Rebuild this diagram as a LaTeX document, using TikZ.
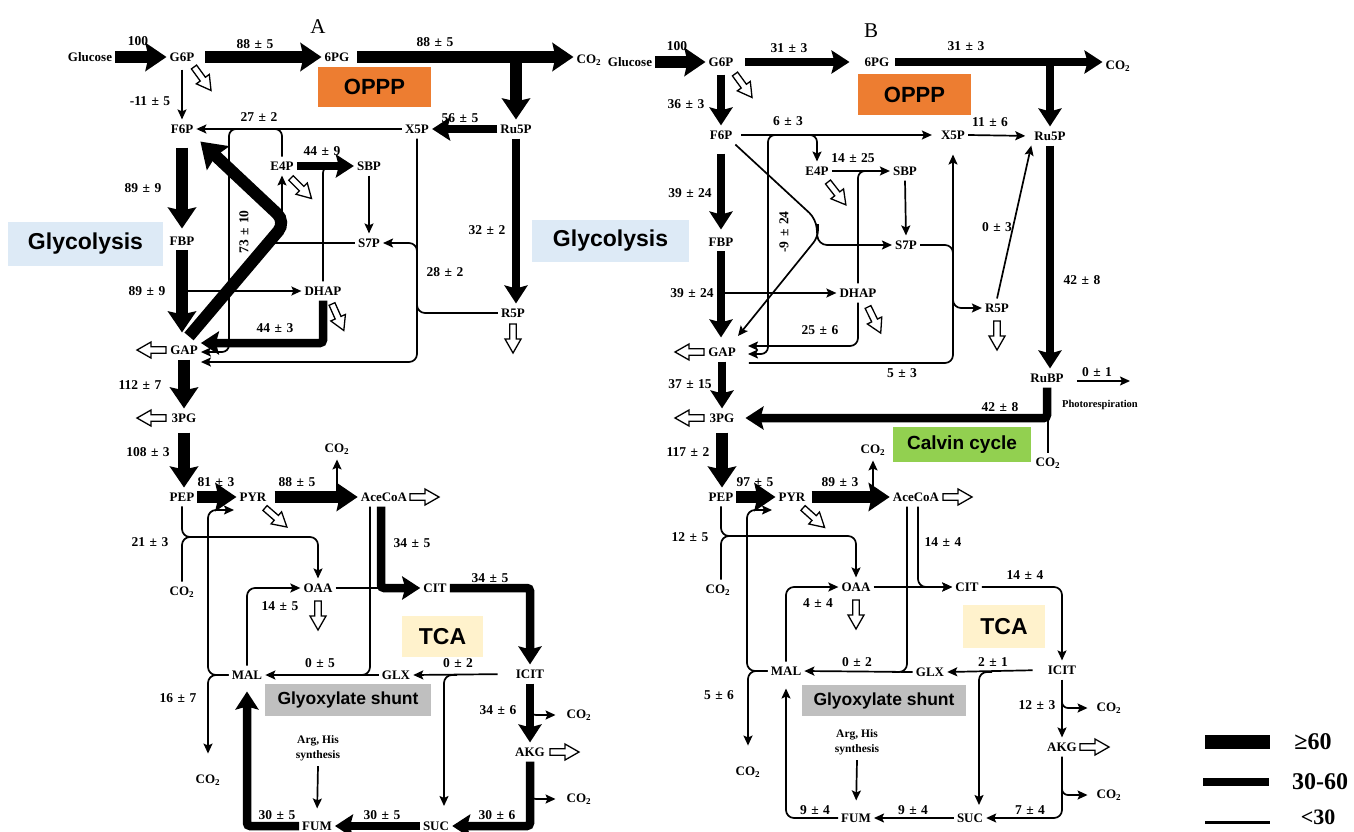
\documentclass[tikz,border=0pt]{standalone}
\usepackage{fontspec}
\setmainfont{Liberation Serif}
\newfontfamily\boxsans{Liberation Sans}
\usetikzlibrary{arrows.meta}
\newcommand\metf{\bfseries\fontsize{13}{13}\selectfont}
\newcommand\numf{\bfseries\fontsize{13.5}{13.5}\selectfont}
\newcommand\bxf[1]{\boxsans\bfseries\fontsize{#1}{#1}\selectfont}
\newcommand\fx[2]{#1\hspace{4.5pt}±\hspace{4.5pt}#2}
\newcommand\COt{CO\textsubscript{2}}
\definecolor{opppc}{RGB}{237,125,49}
\definecolor{glyc}{RGB}{221,234,246}
\definecolor{tcac}{RGB}{255,242,204}
\definecolor{glxc}{RGB}{191,191,191}
\definecolor{calc}{RGB}{146,208,80}
\begin{document}
\begin{tikzpicture}[x=1pt,y=-1pt,
  mlab/.style={font=\metf, inner xsep=3pt, inner ysep=5pt},
  nlab/.style={font=\numf, inner sep=0pt},
  cbox/.style={inner sep=0pt},
  fbig/.style={line width=12pt, -{Stealth[length=21pt,width=28pt,inset=3pt]}},
  fmid/.style={line width=8.5pt, -{Stealth[length=18pt,width=23pt,inset=3pt]}},
  fthin/.style={line width=1.7pt, -{Stealth[length=10pt,width=9pt,inset=2pt]}},
  fline/.style={line width=1.7pt},
  holarrow/.pic={\draw[line width=1.3pt,fill=white,line join=miter] (0,-3.2) -- (15,-3.2) -- (15,-8) -- (29,0) -- (15,8) -- (15,3.2) -- (0,3.2) -- cycle;}
]
\useasboundingbox (0,0) rectangle (1354,832);
% ---------- boxes
\node[cbox, fill=opppc, minimum width=113pt, minimum height=40pt, font=\bxf{22}] (aOPPP) at (374.5,87) {OPPP};
\node[cbox, fill=glyc, minimum width=155pt, minimum height=44pt, font=\bxf{23}] (aGly) at (85.5,244) {Glycolysis};
\node[cbox, fill=tcac, minimum width=81pt, minimum height=41pt, font=\bxf{23}] (aTCA) at (442.5,636.5) {TCA};
\node[cbox, fill=glxc, minimum width=166pt, minimum height=32pt, font=\bxf{17.5}] (aGS) at (348,700) {Glyoxylate shunt};
\node[cbox, fill=opppc, minimum width=113pt, minimum height=41pt, font=\bxf{22}] (bOPPP) at (914.5,94.5) {OPPP};
\node[cbox, fill=glyc, minimum width=157pt, minimum height=42pt, font=\bxf{23}] (bGly) at (610.5,241) {Glycolysis};
\node[cbox, fill=tcac, minimum width=82pt, minimum height=43pt, font=\bxf{23}] (bTCA) at (1004,626.5) {TCA};
\node[cbox, fill=glxc, minimum width=164pt, minimum height=31pt, font=\bxf{17.5}] (bGS) at (884,700.5) {Glyoxylate shunt};
\node[cbox, fill=calc, minimum width=138pt, minimum height=35pt, font=\bxf{19}] (bCal) at (962,444.5) {Calvin cycle};
% ---------- titles
\node[font=\fontsize{21}{21}\selectfont] (tA) at (318,27) {A};
\node[font=\fontsize{21}{21}\selectfont] (tB) at (871,31) {B};

% =================== PANEL A nodes
\node[mlab] (aGlc) at (90,57) {Glucose};
\node[mlab] (aG6P) at (182,57) {G6P};
\node[mlab] (a6PG) at (337,57) {6PG};
\node[mlab] (aCO2a) at (589,60) {\COt};
\node[mlab] (aRu5P) at (516,129) {Ru5P};
\node[mlab] (aX5P) at (417,129) {X5P};
\node[mlab] (aF6P) at (182,129) {F6P};
\node[mlab] (aE4P) at (282,166) {E4P};
\node[mlab] (aSBP) at (369,166) {SBP};
\node[mlab] (aFBP) at (182,241) {FBP};
\node[mlab] (aS7P) at (369,243) {S7P};
\node[mlab] (aDHAP) at (323,291) {DHAP};
\node[mlab] (aR5P) at (513,313) {R5P};
\node[mlab] (aGAP) at (184,350) {GAP};
\node[mlab] (a3PG) at (184,418) {3PG};
\node[mlab] (aCO2b) at (337,449) {\COt};
\node[mlab] (aPEP) at (182,497) {PEP};
\node[mlab] (aPYR) at (253,497) {PYR};
\node[mlab] (aAce) at (384,497) {AceCoA};
\node[mlab] (aCO2c) at (182,592) {\COt};
\node[mlab] (aOAA) at (318,588) {OAA};
\node[mlab] (aCIT) at (435,588) {CIT};
\node[mlab] (aMAL) at (247,675) {MAL};
\node[mlab] (aGLX) at (396,675) {GLX};
\node[mlab] (aICIT) at (530,674) {ICIT};
\node[mlab] (aCO2d) at (579,715) {\COt};
\node[mlab] (aAKG) at (530,752) {AKG};
\node[mlab] (aCO2e) at (579,799) {\COt};
\node[mlab] (aCO2f) at (208,780) {\COt};
\node[mlab, align=center, font=\bfseries\fontsize{11.5}{15.5}\selectfont] (aArg) at (318,748) {Arg, His\\synthesis};
\node[mlab] (aFUM) at (317,826) {FUM};
\node[mlab] (aSUC) at (436,826) {SUC};
\coordinate (aK) at (286,222);
\coordinate (aPYRin) at (234,510);
\coordinate (aSUCin) at (444,806);
% A flux labels
\node[nlab] (aL1) at (138,41) {100};
\node[nlab] (aL2) at (255,44) {\fx{88}{5}};
\node[nlab] (aL3) at (435,42) {\fx{88}{5}};
\node[nlab] (aL4) at (150,101) {\fx{-11}{5}};
\node[nlab] (aL5) at (259,117) {\fx{27}{2}};
\node[nlab] (aL6) at (460,118) {\fx{56}{5}};
\node[nlab] (aL7) at (322,151) {\fx{44}{9}};
\node[nlab] (aL8) at (143,188) {\fx{89}{9}};
\node[nlab, rotate=90] (aL9) at (244,232) {\fx{73}{10}};
\node[nlab] (aL10) at (487,230) {\fx{32}{2}};
\node[nlab] (aL11) at (445,272) {\fx{28}{2}};
\node[nlab] (aL12) at (147,291) {\fx{89}{9}};
\node[nlab] (aL13) at (275,328) {\fx{44}{3}};
\node[nlab] (aL14) at (140,385) {\fx{112}{7}};
\node[nlab] (aL15) at (148,452) {\fx{108}{3}};
\node[nlab] (aL16) at (216,482) {\fx{81}{3}};
\node[nlab] (aL17) at (297,482) {\fx{88}{5}};
\node[nlab] (aL18) at (150,542) {\fx{21}{3}};
\node[nlab] (aL19) at (412,543) {\fx{34}{5}};
\node[nlab] (aL20) at (490,578) {\fx{34}{5}};
\node[nlab] (aL21) at (280,606) {\fx{14}{5}};
\node[nlab] (aL22) at (320,663) {\fx{0}{5}};
\node[nlab] (aL23) at (458,663) {\fx{0}{2}};
\node[nlab] (aL24) at (178,698) {\fx{16}{7}};
\node[nlab] (aL25) at (498,710) {\fx{34}{6}};
\node[nlab] (aL26) at (277,815) {\fx{30}{5}};
\node[nlab] (aL27) at (382,815) {\fx{30}{5}};
\node[nlab] (aL28) at (497,815) {\fx{30}{6}};

% =================== PANEL A connectors
\draw[fbig] (aGlc.east) -- (aG6P.west);
\draw[fbig, shorten <=8pt] (aG6P.east) -- (a6PG.west);
\draw[fbig, shorten <=5pt] (a6PG.east) -- (a6PG.east -| aCO2a.west);
\draw[fbig] (aRu5P.north |- a6PG.east) -- (aRu5P.north);
\draw[fthin, shorten <=3pt] (aG6P.south) -- (aF6P.north);
\pic[rotate=-54] at (194,67) {holarrow};
\draw[fmid] (aRu5P.west) -- (aX5P.east);
\draw[fthin] (aX5P.west) -- (aF6P.east);
\draw[fline, rounded corners=7pt] (aE4P.north) |- (268,129);
\draw[fthin, rounded corners=7pt] (247,129) -| (229,352) -- ([yshift=-2pt]aGAP.east);
\draw[fbig, rounded corners=12pt, -{Stealth[length=24pt,width=32pt,inset=3pt]}] ([xshift=5pt,yshift=4pt]aGAP.north) -- (aK) -- ([xshift=4pt,yshift=-3pt]aF6P.south east);
\draw[fthin] (282,214) -- (aE4P.south);
\draw[fmid] (aE4P.east) -- (aSBP.west);
\draw[fline, rounded corners=7pt] (aDHAP.north) |- (338,166);
\pic[rotate=-45] at (291,178) {holarrow};
\draw[fthin] (aSBP.south) -- (aS7P.north);
\draw[fline] (272,243) -- (aS7P.west);
\draw[fbig, shorten <=9pt, shorten >=3pt] (aF6P.south) -- (aFBP.north);
\draw[fbig, shorten >=8pt] (aFBP.south) -- (aFBP.south |- aGAP.north);
\draw[fthin] (aFBP.south |- aDHAP.west) -- (aDHAP.west);
\draw[fmid, rounded corners=3pt] (aDHAP.south) |- ([yshift=7pt]aGAP.east);
\pic[rotate=-66] at (332,304) {holarrow};
\draw[fthin, rounded corners=8pt] (aX5P.south) |- ([yshift=-12pt]aGAP.east);
\draw[fthin, rounded corners=8pt] (aR5P.west) -| (aX5P.south |- aS7P.east) -- (aS7P.east);
\draw[fmid] (aRu5P.south) -- (aRu5P.south |- aR5P.north);
\pic[rotate=-90] at (513,324) {holarrow};
\pic[rotate=180] at (166,350) {holarrow};
\draw[fbig] (aGAP.south) -- (a3PG.north);
\pic[rotate=180] at (166,418) {holarrow};
\draw[fbig, shorten <=5pt] (a3PG.south) -- (a3PG.south |- aPEP.north);
\draw[fbig] (aPEP.east) -- (aPYR.west);
\draw[fbig, shorten <=5pt] (aPYR.east) -- (aAce.west);
\draw[fthin] (aCO2b.south |- aPYR.east) -- (aCO2b.south);
\pic at (410,497) {holarrow};
\pic[rotate=-41] at (265,508) {holarrow};
\draw[fthin, rounded corners=8pt] (aPEP.south) |- (300,537) -| (aOAA.north);
\draw[fline, rounded corners=8pt] (aPEP.south |- aCO2c.north) |- (200,537);
\draw[fthin, rounded corners=8pt] (aMAL.west) -| (208,510) -- (aPYRin);
\draw[fthin, rounded corners=8pt, shorten >=16pt] (aMAL.west) -| (aCO2f.north);
\draw[fmid, rounded corners=3pt] ([xshift=-3pt]aAce.south) |- (aCIT.west);
\draw[fline, rounded corners=8pt] ([xshift=-14pt]aAce.south) |- (352,675);
\draw[fline] (aOAA.east) -- (378,588);
\pic[rotate=-90] at (318,601) {holarrow};
\draw[fthin, rounded corners=8pt] (aMAL.north) |- (aOAA.west);
\draw[fmid, rounded corners=3pt] (aCIT.east) -| (aICIT.north);
\draw[fthin, shorten <=15pt] (aICIT.west) -- (aGLX.east);
\draw[fthin, rounded corners=8pt] (457,675) -| (aSUCin);
\draw[fthin] (aGLX.west) -- (aMAL.east);
\draw[fmid] (aICIT.south) -- (aICIT.south |- aAKG.north);
\draw[fthin, rounded corners=6pt, shorten >=8pt] (530,700) |- (aCO2d.west);
\pic at (550,752) {holarrow};
\draw[fmid, rounded corners=3pt] (aAKG.south) |- (aSUC.east);
\draw[fthin, rounded corners=6pt, shorten >=8pt] (530,784) |- (aCO2e.west);
\draw[fmid] (aSUC.west) -- (aFUM.east);
\draw[fmid, rounded corners=3pt, shorten >=7pt] (aFUM.west) -| (aMAL.south);
\draw[fthin, shorten >=8pt] (aArg.south) -- (aFUM.north);

% =================== PANEL B nodes
\node[mlab] (bGlc) at (630,62) {Glucose};
\node[mlab] (bG6P) at (721,62) {G6P};
\node[mlab] (b6PG) at (877,62) {6PG};
\node[mlab] (bCO2a) at (1118,66) {\COt};
\node[mlab] (bF6P) at (721,135) {F6P};
\node[mlab] (bX5P) at (953,135) {X5P};
\node[mlab] (bRu5P) at (1050,136) {Ru5P};
\node[mlab] (bE4P) at (817,171) {E4P};
\node[mlab] (bSBP) at (905,171) {SBP};
\node[mlab] (bFBP) at (721,242) {FBP};
\node[mlab] (bS7P) at (906,245) {S7P};
\node[mlab] (bDHAP) at (858,293) {DHAP};
\node[mlab] (bR5P) at (997,308) {R5P};
\node[mlab] (bGAP) at (722,352) {GAP};
\node[mlab] (bRuBP) at (1047,378) {RuBP};
\node[mlab, font=\bfseries\fontsize{10.5}{10.5}\selectfont] (bPhoto) at (1100,405) {Photorespiration};
\node[mlab] (b3PG) at (722,418) {3PG};
\node[mlab] (bCO2b) at (873,450) {\COt};
\node[mlab] (bCO2g) at (1048,463) {\COt};
\node[mlab] (bPEP) at (721,497) {PEP};
\node[mlab] (bPYR) at (792,497) {PYR};
\node[mlab] (bAce) at (916,497) {AceCoA};
\node[mlab] (bCO2c) at (718,590) {\COt};
\node[mlab] (bOAA) at (856,587) {OAA};
\node[mlab] (bCIT) at (967,587) {CIT};
\node[mlab] (bMAL) at (786,671) {MAL};
\node[mlab] (bGLX) at (930,672) {GLX};
\node[mlab] (bICIT) at (1062,670) {ICIT};
\node[mlab] (bCO2d) at (1109,708) {\COt};
\node[mlab] (bAKG) at (1062,747) {AKG};
\node[mlab] (bCO2e) at (1109,795) {\COt};
\node[mlab] (bCO2f) at (748,772) {\COt};
\node[mlab, align=center, font=\bfseries\fontsize{11.5}{15.5}\selectfont] (bArg) at (857,742) {Arg, His\\synthesis};
\node[mlab] (bFUM) at (856,818) {FUM};
\node[mlab] (bSUC) at (970,818) {SUC};
\coordinate (bPR) at (1130,381);
\coordinate (bGAPa) at (748,346);
\coordinate (bGAPb) at (748,354);
\coordinate (bGAPd) at (738,336);
\coordinate (bPYRin) at (772,510);
\coordinate (bSUCin) at (979,805);
% B flux labels
\node[nlab] (bL1) at (677,46) {100};
\node[nlab] (bL2) at (789,48) {\fx{31}{3}};
\node[nlab] (bL3) at (966,46) {\fx{31}{3}};
\node[nlab] (bL4) at (686,104) {\fx{36}{3}};
\node[nlab] (bL5) at (788,121) {\fx{6}{3}};
\node[nlab] (bL6) at (990,122) {\fx{11}{6}};
\node[nlab] (bL7) at (853,158) {\fx{14}{25}};
\node[nlab] (bL8) at (690,193) {\fx{39}{24}};
\node[nlab, rotate=90] (bL9) at (784,232) {\fx{-9}{24}};
\node[nlab] (bL10) at (997,227) {\fx{0}{3}};
\node[nlab] (bL11) at (1082,280) {\fx{42}{8}};
\node[nlab] (bL12) at (692,293) {\fx{39}{24}};
\node[nlab] (bL13) at (820,330) {\fx{25}{6}};
\node[nlab] (bL14) at (902,373) {\fx{5}{3}};
\node[nlab] (bL15) at (1097,372) {\fx{0}{1}};
\node[nlab] (bL16) at (690,384) {\fx{37}{15}};
\node[nlab] (bL17) at (1000,407) {\fx{42}{8}};
\node[nlab] (bL18) at (688,452) {\fx{117}{2}};
\node[nlab] (bL19) at (755,482) {\fx{97}{5}};
\node[nlab] (bL20) at (840,482) {\fx{89}{3}};
\node[nlab] (bL21) at (690,537) {\fx{12}{5}};
\node[nlab] (bL22) at (943,542) {\fx{14}{4}};
\node[nlab] (bL23) at (1025,575) {\fx{14}{4}};
\node[nlab] (bL24) at (818,603) {\fx{4}{4}};
\node[nlab] (bL25) at (857,662) {\fx{0}{2}};
\node[nlab] (bL26) at (993,662) {\fx{2}{1}};
\node[nlab] (bL27) at (719,695) {\fx{5}{6}};
\node[nlab] (bL28) at (1037,705) {\fx{12}{3}};
\node[nlab] (bL29) at (815,810) {\fx{9}{4}};
\node[nlab] (bL30) at (913,810) {\fx{9}{4}};
\node[nlab] (bL31) at (1030,810) {\fx{7}{4}};

% =================== PANEL B connectors
\draw[fbig] (bGlc.east) -- (bG6P.west);
\draw[fmid, shorten <=9pt, shorten >=12pt] (bG6P.east) -- (b6PG.west);
\draw[fmid, shorten <=3pt] (b6PG.east) -- (b6PG.east -| bCO2a.west);
\draw[fmid] (bRu5P.north |- b6PG.east) -- (bRu5P.north);
\draw[fmid, shorten <=3pt] (bG6P.south) -- (bF6P.north);
\pic[rotate=-54] at (735,74) {holarrow};
\draw[fthin, shorten <=6pt, shorten >=6pt] (bF6P.east) -- (bX5P.west);
\draw[fthin, shorten >=6pt] (bX5P.east) -- (bRu5P.west);
\draw[fthin, rounded corners=7pt] (802,135) -| (bE4P.north);
\draw[fthin, rounded corners=7pt] (783,135) -| (768,354) -- (bGAPb);
\draw[fthin] (bE4P.east) -- (bSBP.west);
\draw[fline, rounded corners=7pt] (bDHAP.north) |- (872,171);
\pic[rotate=-52] at (828,182) {holarrow};
\draw[fthin] (bSBP.south) -- (bS7P.north);
\draw[fthin, rounded corners=9pt] (bF6P.south east) -- (816,219) -- (818,245) -- (bS7P.west);
\draw[fthin, rounded corners=7pt] (818,224) -- (818,237) -- (bGAPd);
\draw[fmid, shorten <=9pt, shorten >=3pt] (bF6P.south) -- (bFBP.north);
\draw[fmid, shorten >=5pt] (bFBP.south) -- (bFBP.south |- bGAP.north);
\draw[fthin] (bFBP.south |- bDHAP.west) -- (bDHAP.west);
\draw[fthin, rounded corners=8pt] (bDHAP.south) |- (bGAPa);
\pic[rotate=-64] at (868,307) {holarrow};
\draw[fthin, rounded corners=8pt] (bS7P.east) -| (953,308) -- (bR5P.west);
\draw[fthin, rounded corners=8pt, shorten <=10pt, shorten >=10pt] ([yshift=-11pt]bGAP.east) -| (bX5P.south);
\pic[rotate=-90] at (997,321) {holarrow};
\draw[fthin] (bR5P.north) -- (bRu5P.south west);
\draw[fmid] (bRu5P.south) -- (bRu5P.south |- bRuBP.north);
\draw[fthin, shorten <=10pt] (bRuBP.east |- bPR) -- (bPR);
\draw[fmid, rounded corners=3pt, shorten >=8pt] (bRuBP.south) |- (b3PG.east);
\draw[fline] (bCO2g.north) -- (bCO2g.north |- b3PG.east);
\pic[rotate=180] at (704,352) {holarrow};
\draw[fmid] (bGAP.south) -- (b3PG.north);
\pic[rotate=180] at (704,418) {holarrow};
\draw[fbig, shorten <=5pt] (b3PG.south) -- (b3PG.south |- bPEP.north);
\draw[fbig] (bPEP.east) -- (bPYR.west);
\draw[fbig, shorten <=3pt] (bPYR.east) -- (bAce.west);
\draw[fthin] (bCO2b.south |- bPYR.east) -- (bCO2b.south);
\pic at (943,497) {holarrow};
\pic[rotate=-42] at (803,508) {holarrow};
\draw[fthin, rounded corners=8pt] (bPEP.south) |- (840,536) -| (bOAA.north);
\draw[fline, rounded corners=8pt] (bPEP.south |- bCO2c.north) |- (740,536);
\draw[fthin, rounded corners=8pt] (bMAL.west) -| (747,510) -- (bPYRin);
\draw[fthin, rounded corners=8pt, shorten >=16pt] (bMAL.west) -| (bCO2f.north);
\draw[fthin, rounded corners=8pt] ([xshift=2pt]bAce.south) |- (bCIT.west);
\draw[fline, rounded corners=8pt] ([xshift=-9pt]bAce.south) |- (892,672);
\draw[fthin] (bOAA.east) -- (bCIT.west);
\pic[rotate=-90] at (856,600) {holarrow};
\draw[fthin, rounded corners=8pt] (bMAL.north) |- (bOAA.west);
\draw[fthin, rounded corners=8pt] (bCIT.east) -| (bICIT.north);
\draw[fthin, shorten <=12pt] (bICIT.west) -- (bGLX.east);
\draw[fthin, rounded corners=8pt] (992,672) -| (bSUCin);
\draw[fthin] (bGLX.west) -- (bMAL.east);
\draw[fthin] (bICIT.south) -- (bICIT.south |- bAKG.north);
\draw[fthin, rounded corners=6pt, shorten >=6pt] (1062,696) |- (bCO2d.west);
\pic at (1080,747) {holarrow};
\draw[fthin, rounded corners=8pt] (bAKG.south) |- (bSUC.east);
\draw[fthin, rounded corners=6pt, shorten >=6pt] (1062,781) |- (bCO2e.west);
\draw[fthin] (bSUC.west) -- (bFUM.east);
\draw[fthin, rounded corners=8pt, shorten >=8pt] (bFUM.west) -| (bMAL.south);
\draw[fthin, shorten >=8pt] (bArg.south) -- (bFUM.north);

% =================== legend
\coordinate (lg1a) at (1205,742); \coordinate (lg1b) at (1270,742);
\coordinate (lg2a) at (1203,782); \coordinate (lg2b) at (1269,782);
\coordinate (lg3a) at (1205,822); \coordinate (lg3b) at (1270,822);
\draw[line width=14pt] (lg1a) -- (lg1b);
\draw[line width=8pt] (lg2a) -- (lg2b);
\draw[line width=3pt] (lg3a) -- (lg3b);
\node[font=\bfseries\fontsize{24}{24}\selectfont, inner sep=0pt] (lgt1) at (1313,742) {≥60};
\node[font=\bfseries\fontsize{24}{24}\selectfont, inner sep=0pt] (lgt2) at (1320,782) {30-60};
\node[font=\bfseries\fontsize{22}{22}\selectfont, inner sep=0pt] (lgt3) at (1318,817) {<30};
\end{tikzpicture}
\end{document}
